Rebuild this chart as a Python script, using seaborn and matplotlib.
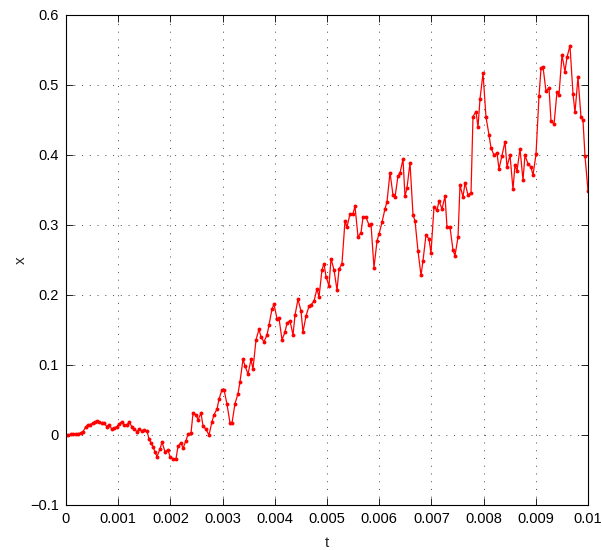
import numpy as np
import matplotlib
matplotlib.use("Agg")
import matplotlib.pyplot as plt
import seaborn as sns

# sample times (ms) and x(t)
t_ms = [
    0.000, 0.038, 0.096, 0.134, 0.192, 0.230, 0.287, 0.326, 0.383, 0.421,
    0.460, 0.517, 0.556, 0.594, 0.632, 0.690, 0.728, 0.785, 0.824, 0.881,
    0.920, 0.977, 1.015, 1.073, 1.111, 1.169, 1.207, 1.264, 1.303, 1.360,
    1.398, 1.456, 1.494, 1.552, 1.590, 1.628, 1.667, 1.705, 1.743, 1.801,
    1.839, 1.897, 1.954, 1.992, 2.050, 2.107, 2.146, 2.203, 2.241, 2.299,
    2.337, 2.395, 2.433, 2.490, 2.529, 2.586, 2.625, 2.682, 2.739, 2.797,
    2.835, 2.893, 2.931, 2.989, 3.027, 3.084, 3.142, 3.180, 3.238, 3.295,
    3.333, 3.391, 3.429, 3.487, 3.544, 3.582, 3.640, 3.697, 3.736, 3.793,
    3.851, 3.889, 3.946, 3.985, 4.042, 4.080, 4.138, 4.195, 4.234, 4.291,
    4.349, 4.387, 4.444, 4.502, 4.540, 4.598, 4.655, 4.693, 4.751, 4.808,
    4.847, 4.904, 4.943, 4.981, 5.038, 5.077, 5.134, 5.192, 5.230, 5.287,
    5.345, 5.383, 5.441, 5.498, 5.536, 5.594, 5.651, 5.690, 5.747, 5.805,
    5.843, 5.900, 5.958, 5.996, 6.054, 6.111, 6.149, 6.207, 6.264, 6.303,
    6.360, 6.398, 6.456, 6.494, 6.533, 6.590, 6.648, 6.686, 6.743, 6.801,
    6.839, 6.897, 6.954, 6.992, 7.050, 7.107, 7.146, 7.203, 7.261, 7.299,
    7.356, 7.414, 7.452, 7.510, 7.548, 7.605, 7.644, 7.701, 7.759, 7.797,
    7.854, 7.893, 7.931, 7.989, 8.046, 8.103, 8.142, 8.199, 8.257, 8.295,
    8.352, 8.410, 8.448, 8.506, 8.563, 8.602, 8.640, 8.697, 8.755, 8.793,
    8.851, 8.908, 8.946, 9.004, 9.061, 9.100, 9.138, 9.195, 9.253, 9.291,
    9.349, 9.406, 9.444, 9.502, 9.559, 9.598, 9.655, 9.713, 9.751, 9.808,
    9.866, 9.904, 9.942, 10.000,
]
x_vals = [
    0.000, 0.000, 0.001, 0.001, 0.002, 0.002, 0.003, 0.005, 0.012, 0.014,
    0.015, 0.017, 0.019, 0.020, 0.019, 0.017, 0.017, 0.012, 0.015, 0.008,
    0.010, 0.012, 0.016, 0.019, 0.014, 0.015, 0.018, 0.012, 0.008, 0.005,
    0.008, 0.006, 0.007, 0.006, -0.006, -0.011, -0.017, -0.024, -0.031, -0.020,
    -0.010, -0.024, -0.021, -0.031, -0.034, -0.034, -0.016, -0.011, -0.019, -0.008,
    0.001, 0.003, 0.031, 0.029, 0.022, 0.031, 0.013, 0.008, 0.000, 0.019,
    0.029, 0.037, 0.051, 0.065, 0.065, 0.044, 0.017, 0.017, 0.045, 0.059,
    0.076, 0.108, 0.099, 0.087, 0.108, 0.094, 0.136, 0.151, 0.140, 0.133,
    0.143, 0.157, 0.180, 0.187, 0.166, 0.167, 0.136, 0.147, 0.160, 0.163,
    0.143, 0.171, 0.194, 0.177, 0.147, 0.170, 0.184, 0.186, 0.191, 0.209,
    0.197, 0.236, 0.245, 0.226, 0.213, 0.252, 0.236, 0.207, 0.237, 0.245,
    0.306, 0.297, 0.316, 0.316, 0.327, 0.283, 0.289, 0.311, 0.311, 0.300,
    0.301, 0.239, 0.277, 0.287, 0.304, 0.323, 0.333, 0.375, 0.343, 0.340,
    0.370, 0.374, 0.394, 0.341, 0.353, 0.389, 0.314, 0.306, 0.263, 0.228,
    0.249, 0.286, 0.280, 0.260, 0.326, 0.321, 0.334, 0.323, 0.341, 0.297,
    0.297, 0.264, 0.256, 0.283, 0.357, 0.340, 0.360, 0.343, 0.346, 0.455,
    0.462, 0.440, 0.480, 0.517, 0.454, 0.429, 0.410, 0.400, 0.403, 0.380,
    0.399, 0.419, 0.383, 0.400, 0.351, 0.386, 0.377, 0.409, 0.364, 0.400,
    0.387, 0.383, 0.371, 0.401, 0.484, 0.524, 0.526, 0.491, 0.496, 0.449,
    0.444, 0.490, 0.486, 0.543, 0.519, 0.540, 0.556, 0.487, 0.461, 0.511,
    0.454, 0.450, 0.399, 0.349,
]
t = np.array(t_ms) * 1e-3

x_ticks = [0, 0.001, 0.002, 0.003, 0.004, 0.005, 0.006, 0.007, 0.008, 0.009, 0.01]
x_labels = ["0", "0.001", "0.002", "0.003", "0.004", "0.005", "0.006",
            "0.007", "0.008", "0.009", "0.01"]
y_ticks = [-0.1, 0, 0.1, 0.2, 0.3, 0.4, 0.5, 0.6]
y_labels = ["\u22120.1", "0", "0.1", "0.2", "0.3", "0.4", "0.5", "0.6"]

sns.set_style("ticks")
plt.rcParams['font.family'] = ['Liberation Sans', 'DejaVu Sans']

fig = plt.figure(figsize=(6.02, 5.5), dpi=100)
ax = fig.add_axes([66 / 602, 1 - 505 / 550, 522 / 602, 490 / 550])

sns.lineplot(x=t, y=x_vals, ax=ax, color='red', linewidth=0.9,
             marker='o', markersize=2.8, markeredgewidth=0, sort=False)

ax.set_xlim(0, 0.01)
ax.set_ylim(-0.1, 0.6)
ax.set_xticks(x_ticks)
ax.set_xticklabels(x_labels)
ax.set_yticks(y_ticks)
ax.set_yticklabels(y_labels)
ax.tick_params(direction='in', length=5, width=0.6, top=True, right=True,
               labelsize=10.5, colors='black', pad=5)
# matlab-style sparse dotted grid
ax.grid(True, color='0.25', linestyle=(0, (1.3, 8)), linewidth=0.6)
for s in ax.spines.values():
    s.set_visible(True)
    s.set_color('black')
    s.set_linewidth(0.8)

ax.set_xlabel("t", fontsize=11, labelpad=7)
ax.set_ylabel("x", fontsize=11, labelpad=2)

fig.savefig("out.png", dpi=100, facecolor='white')
